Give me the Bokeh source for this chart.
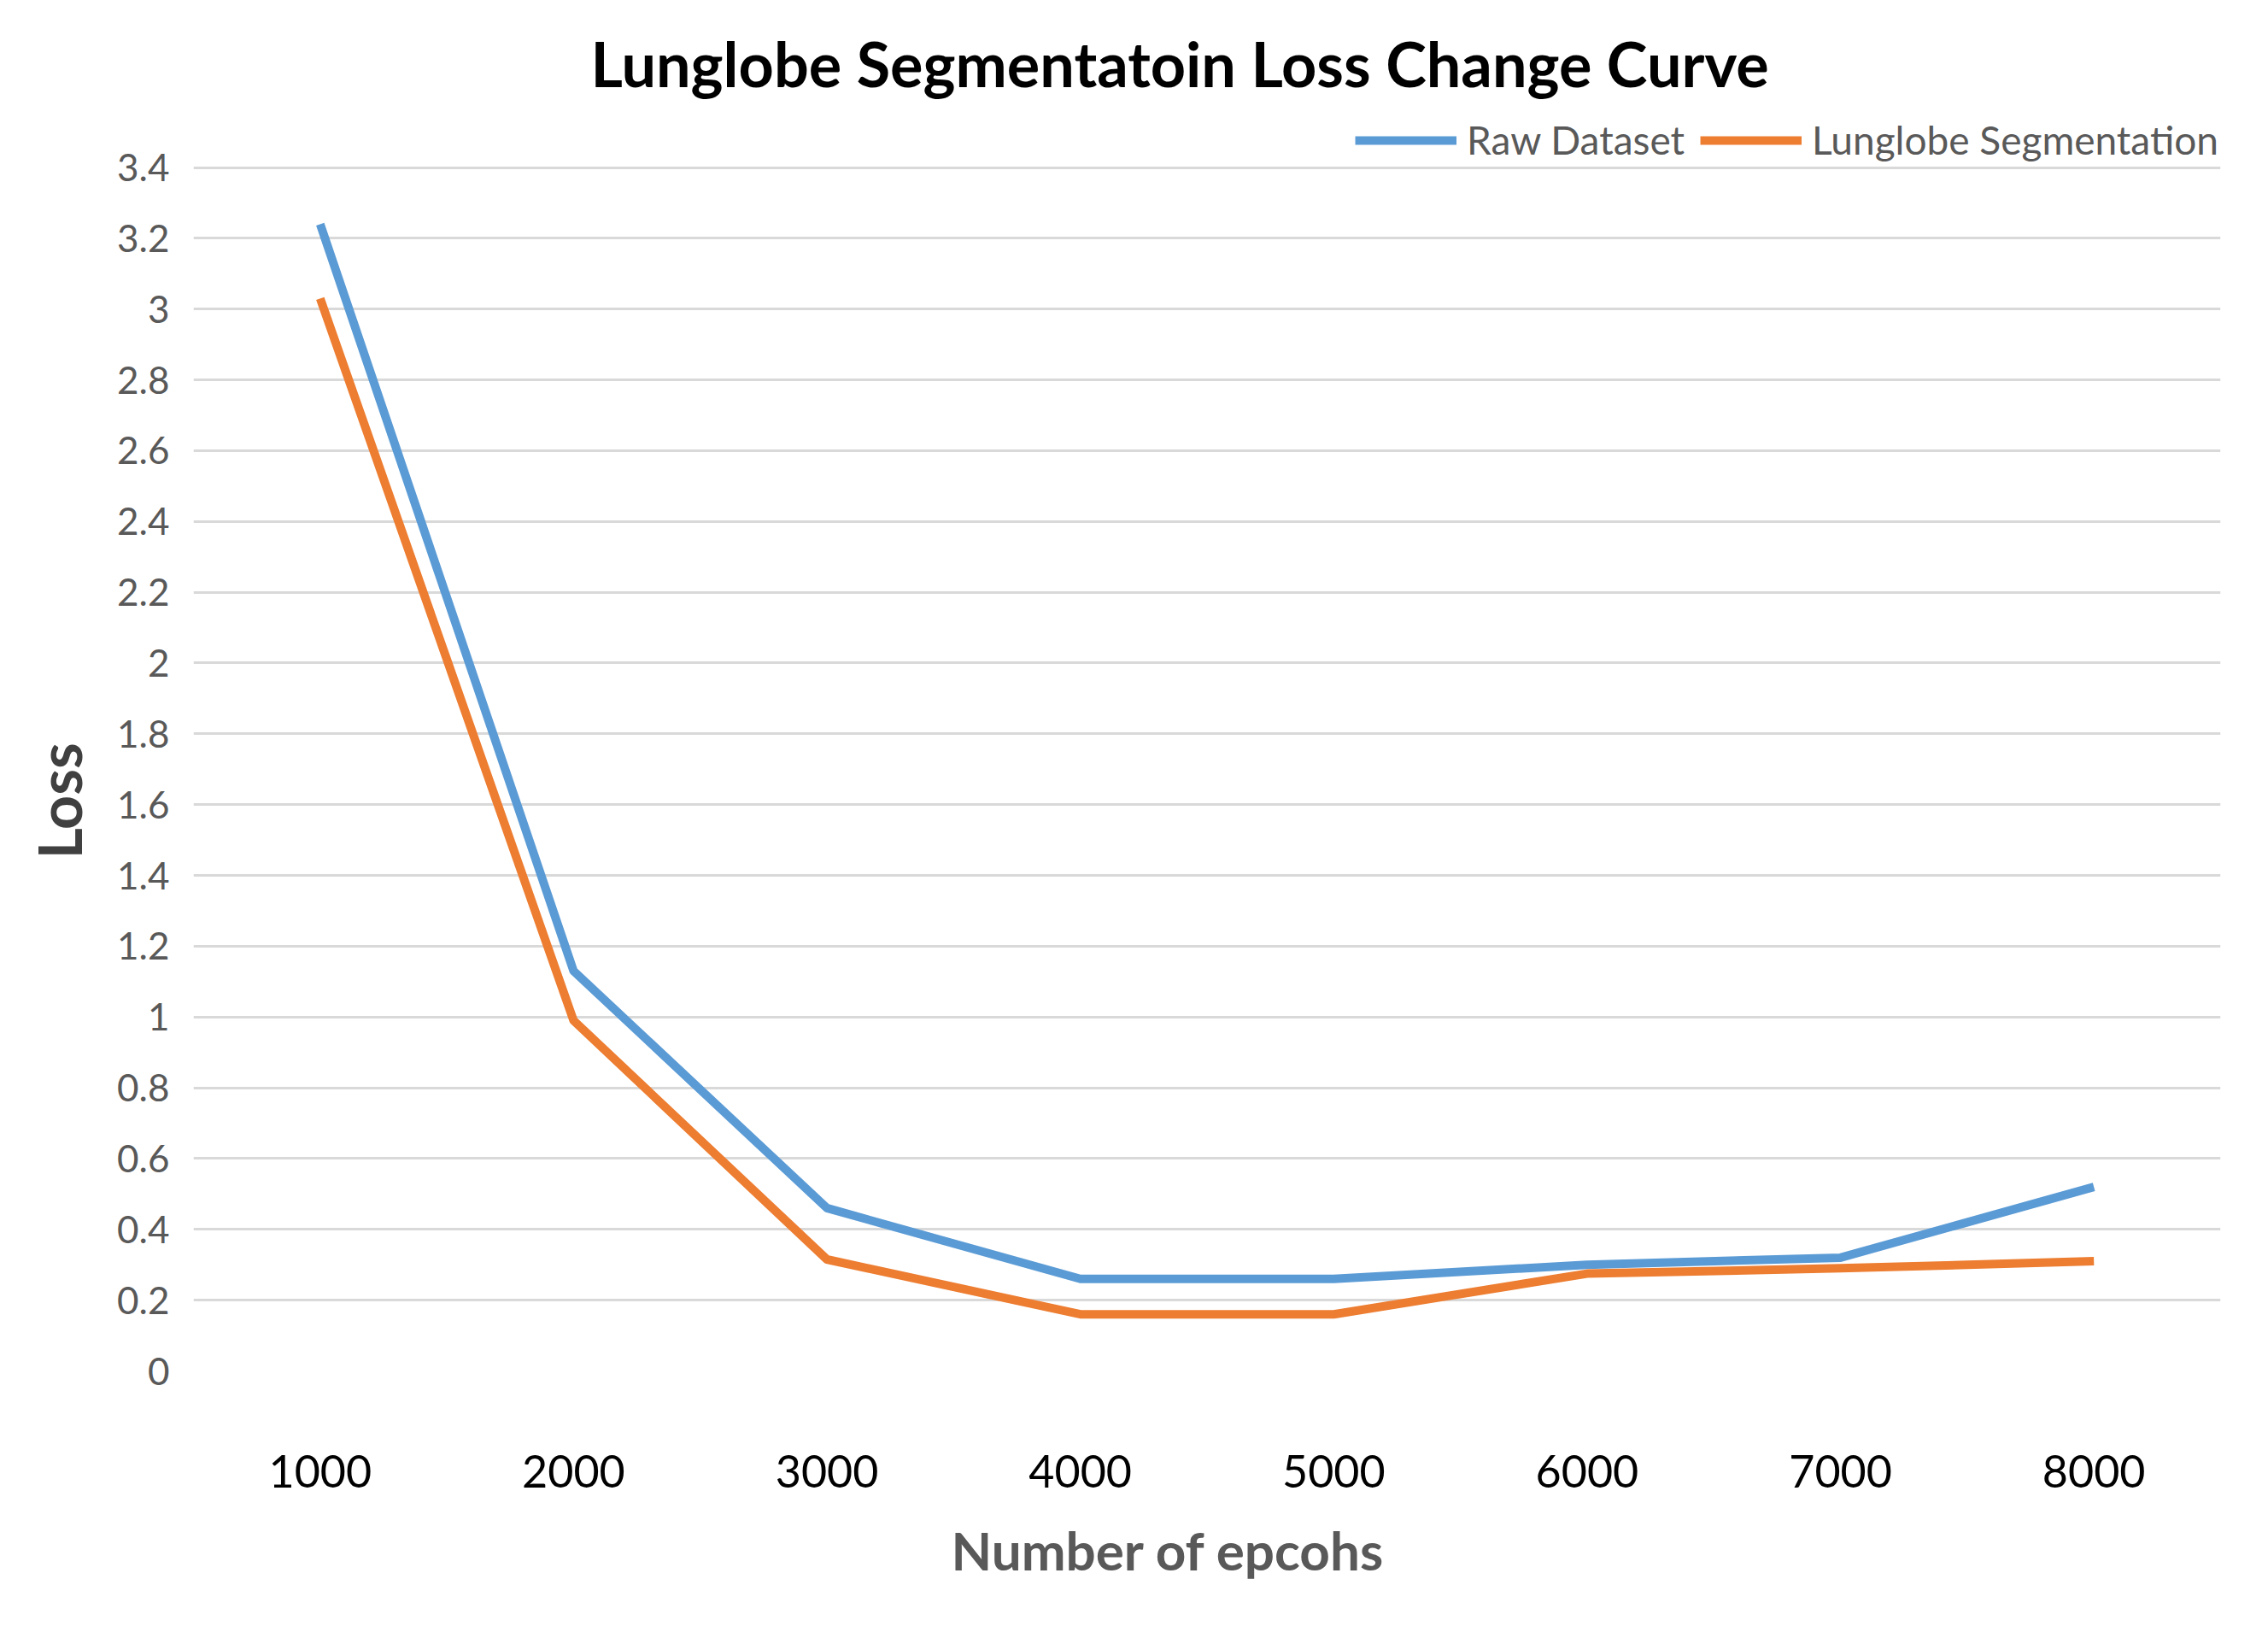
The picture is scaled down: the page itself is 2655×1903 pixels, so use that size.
from bokeh.plotting import figure
from bokeh.models import FixedTicker, Legend, LegendItem, FactorRange, ColumnDataSource, Title
from bokeh.embed import file_html
from bokeh.resources import INLINE

# ---- data ----
epochs = ["1000", "2000", "3000", "4000", "5000", "6000", "7000", "8000"]
raw_loss = [3.24, 1.13, 0.46, 0.26, 0.26, 0.30, 0.32, 0.52]
seg_loss = [3.03, 0.99, 0.315, 0.16, 0.16, 0.275, 0.29, 0.31]
y_ticks = [0, 0.2, 0.4, 0.6, 0.8, 1.0, 1.2, 1.4, 1.6, 1.8, 2.0, 2.2, 2.4, 2.6, 2.8, 3.0, 3.2, 3.4]
y_tick_labels = ["0", "0.2", "0.4", "0.6", "0.8", "1", "1.2", "1.4", "1.6", "1.8",
                 "2", "2.2", "2.4", "2.6", "2.8", "3", "3.2", "3.4"]
series_names = ["Raw Dataset", "Lunglobe Segmentation"]
title_text = "Lunglobe Segmentatoin Loss Change Curve"
x_title = "Number of epcohs"
y_title = "Loss"

FONT = "Lato"
W, H = 2639, 1887

src = ColumnDataSource(dict(epoch=epochs, raw=raw_loss, seg=seg_loss))

# y range extends a little above the last tick to leave room for the legend
p = figure(width=W, height=H, x_range=FactorRange(*epochs), y_range=(0, 3.5485),
           output_backend="svg", toolbar_location=None,
           min_border_left=225, min_border_right=40, min_border_top=134, min_border_bottom=283,
           title=title_text)
p.outline_line_color = None
p.background_fill_color = "white"

p.title.text_font = FONT
p.title.text_font_size = "72px"
p.title.text_font_style = "bold"
p.title.text_color = "#000000"
p.title.align = "left"
p.title.offset = 465
p.title.standoff = 36

# grid
p.xgrid.grid_line_color = None
p.ygrid.grid_line_color = "#D9D9D9"
p.ygrid.grid_line_width = 3

# y axis
p.yaxis.ticker = FixedTicker(ticks=y_ticks)
p.yaxis.major_label_overrides = {t: l for t, l in zip(y_ticks, y_tick_labels)}
p.yaxis.axis_line_color = None
p.yaxis.major_tick_line_color = None
p.yaxis.minor_tick_line_color = None
p.yaxis.major_label_text_font = FONT
p.yaxis.major_label_text_font_size = "44px"
p.yaxis.major_label_text_color = "#595959"
p.yaxis.major_label_standoff = 22

# y axis title as a side title so it can sit a bit below the frame centre
ytitle = Title(text=y_title, align="left", offset=599, standoff=48,
               text_font=FONT, text_font_size="70px", text_font_style="bold",
               text_color="#404040")
p.add_layout(ytitle, "left")

# x axis
p.xaxis.axis_line_color = None
p.xaxis.major_tick_line_color = None
p.xaxis.minor_tick_line_color = None
p.xaxis.major_label_text_font = FONT
p.xaxis.major_label_text_font_size = "52px"
p.xaxis.major_label_text_color = "#000000"
p.xaxis.major_label_standoff = 92

xtitle = Title(text=x_title, align="left", offset=887, standoff=63,
               text_font=FONT, text_font_size="62px", text_font_style="bold",
               text_color="#595959")
p.add_layout(xtitle, "below")

r1 = p.line(x="epoch", y="raw", source=src, line_color="#5B9BD5", line_width=10, line_join="round")
r2 = p.line(x="epoch", y="seg", source=src, line_color="#ED7D31", line_width=10, line_join="round")

legend = Legend(items=[LegendItem(label=series_names[0], renderers=[r1]),
                       LegendItem(label=series_names[1], renderers=[r2])],
                orientation="horizontal", location="top_right",
                glyph_width=119, glyph_height=20, label_standoff=12, spacing=18,
                padding=0, margin=2, border_line_color=None, background_fill_alpha=0,
                label_text_font=FONT, label_text_font_size="46px", label_text_color="#595959")
p.add_layout(legend)

open("out.html", "w").write(file_html(p, INLINE))
